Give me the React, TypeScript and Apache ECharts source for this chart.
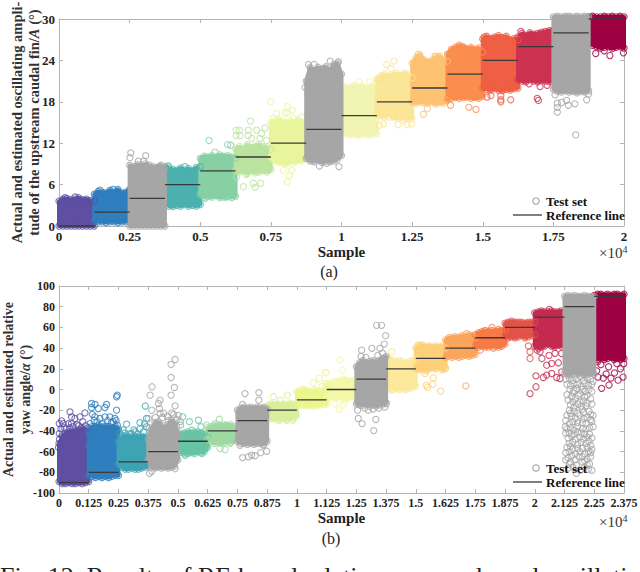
import React, { useEffect, useRef } from "react";
import * as echarts from "echarts";

const SERIF = "'Liberation Serif', 'Times New Roman', serif";
const BLOCK_WIDTH = 0.125;
const GREY = "#a6a6a6";
const LINE = "#3a3a3a";
const AXIS = "#b4b4b4";

const aXTicks = [0, 0.25, 0.5, 0.75, 1, 1.25, 1.5, 1.75, 2];
const bXTicks = [0, 0.125, 0.25, 0.375, 0.5, 0.625, 0.75, 0.875, 1, 1.125, 1.25, 1.375, 1.5, 1.625, 1.75, 1.875, 2, 2.125, 2.25, 2.375];

const aColors = ["#5e4fa2", "#2f7ebd", GREY, "#4bb0ae", "#86d0a4", "#bce4a0", "#e9f59c", GREY, "#f2f4b4", "#fbe596", "#fdc272", "#fb8d4f", "#ee5f44", "#cc3250", GREY, "#9e0142"];
const bColors = ["#5e4fa2", "#2f7ebd", "#3ea3b3", GREY, "#68c4a4", "#9fd9a2", GREY, "#d8ef9b", "#ebf68f", "#f4f8a8", GREY, "#fde99b", "#fdd079", "#fca55d", "#f87a45", "#e25349", "#c42a50", GREY, "#9e0142"];

const aReference = [0, 2, 4, 6, 8, 10, 12, 14, 16, 18, 20, 22, 24, 26, 28, 30];
const bReference = [-90, -80, -70, -60, -50, -40, -30, -20, -10, 0, 10, 20, 30, 40, 50, 60, 70, 80, 90];

const aUpper = [
  [3.6, 3.9, 4.0, 3.8, 3.9, 4.1, 3.8, 3.9, 3.7, 3.6],
  [4.6, 5.0, 4.9, 4.8, 5.2, 4.9, 5.3, 4.8, 4.9, 5.3],
  [8.8, 8.6, 8.9, 8.7, 9.0, 8.8, 8.6, 8.5, 8.8, 8.3],
  [8.6, 8.4, 8.2, 8.1, 8.4, 8.1, 8.3, 8.0, 8.5, 8.6],
  [9.8, 10.1, 10.0, 10.2, 10.0, 10.3, 10.1, 10.2, 10.0, 9.8],
  [11.2, 11.5, 11.2, 11.8, 11.4, 11.6, 11.8, 11.5, 11.3, 11.1],
  [15.0, 15.2, 15.4, 15.2, 15.0, 15.2, 15.0, 15.4, 15.0, 14.5],
  [21.0, 23.0, 22.5, 23.0, 22.8, 23.1, 22.5, 23.4, 23.6, 22.0],
  [19.8, 20.2, 20.0, 20.4, 20.1, 20.3, 20.1, 20.0, 20.4, 19.9],
  [21.3, 21.8, 22.0, 21.7, 21.9, 22.1, 21.8, 22.2, 21.9, 21.5],
  [23.6, 24.4, 24.8, 24.1, 23.8, 24.0, 24.5, 24.6, 24.1, 23.9],
  [24.9, 25.6, 25.9, 26.2, 26.0, 25.7, 25.9, 25.6, 25.8, 25.2],
  [27.1, 27.5, 27.2, 27.4, 27.6, 27.3, 27.5, 27.0, 27.2, 27.0],
  [27.4, 27.9, 27.6, 28.0, 27.8, 27.9, 28.1, 28.2, 28.3, 28.4],
  [30.3, 30.4, 30.3, 30.4, 30.4, 30.3, 30.4, 30.3, 30.4, 30.3],
  [30.3, 30.4, 30.3, 30.3, 30.4, 30.3, 30.4, 30.3, 30.4, 30.3],
];
const aLower = [
  [0.0, 0.0, 0.0, 0.0, 0.0, 0.0, 0.0, 0.0, 0.0, 0.0],
  [0.7, 0.6, 0.6, 0.5, 0.6, 0.6, 0.5, 0.6, 0.6, 0.7],
  [0.0, 0.0, 0.0, 0.0, 0.0, 0.0, 0.0, 0.0, 0.0, 0.0],
  [3.2, 2.9, 2.8, 3.0, 2.9, 3.1, 2.9, 3.0, 2.9, 3.1],
  [4.6, 4.2, 4.3, 4.2, 4.4, 4.1, 4.2, 4.3, 4.1, 4.3],
  [8.0, 7.8, 8.0, 7.6, 8.0, 7.7, 7.8, 8.0, 7.8, 8.2],
  [10.0, 9.4, 9.2, 9.1, 9.0, 9.3, 9.2, 9.6, 9.4, 9.8],
  [9.8, 9.4, 9.3, 9.6, 9.2, 9.4, 9.3, 9.4, 9.7, 10.2],
  [13.6, 13.4, 13.2, 13.3, 13.1, 13.2, 13.4, 13.2, 13.3, 13.4],
  [16.2, 16.0, 15.8, 16.3, 15.8, 15.6, 15.8, 15.6, 15.7, 15.6],
  [18.0, 17.8, 18.0, 17.9, 17.8, 18.0, 17.7, 17.9, 17.8, 18.2],
  [18.4, 18.5, 18.6, 18.5, 18.6, 18.7, 18.5, 18.6, 18.5, 18.8],
  [20.0, 19.8, 19.7, 19.9, 19.7, 19.6, 19.8, 19.7, 19.9, 20.0],
  [21.2, 21.0, 20.9, 21.2, 21.0, 20.9, 21.1, 21.0, 20.9, 21.2],
  [19.8, 19.5, 19.4, 19.6, 19.4, 19.5, 19.3, 19.5, 19.4, 19.6],
  [26.6, 26.2, 26.0, 25.8, 25.9, 26.0, 25.7, 25.9, 26.0, 25.8],
];
const aLoose: number[][][] = [
  [[0.057, 4.2], [0.021, 4.1]],
  [[0.192, 5.3], [0.145, 5.2]],
  [[0.254, 10.6], [0.307, 10.2], [0.251, 9.9], [0.281, 9.4], [0.3, 9.4], [0.355, 8.6], [0.284, 8.6]],
  [[0.387, 8.7], [0.446, 8.6]],
  [[0.531, 12.4], [0.552, 10.7], [0.597, 11.8], [0.608, 11.7], [0.517, 4.0], [0.593, 4.2]],
  [[0.678, 15.2], [0.627, 13.9], [0.638, 13.9], [0.67, 13.9], [0.729, 14.2], [0.7, 13.9], [0.627, 13.1], [0.641, 13.1], [0.67, 13.1], [0.717, 13.4], [0.682, 12.7], [0.711, 12.7], [0.735, 12.4], [0.653, 5.7], [0.694, 5.6], [0.714, 6.2], [0.688, 6.2], [0.662, 7.5], [0.741, 8.1], [0.629, 7.1]],
  [[0.75, 18.0], [0.809, 17.3], [0.825, 16.8], [0.8, 16.4], [0.809, 16.4], [0.77, 16.3], [0.83, 15.6], [0.859, 15.8], [0.759, 15.6], [0.808, 6.4], [0.815, 7.3], [0.824, 8.1], [0.794, 8.1]],
  [[0.922, 8.7], [0.947, 9.1], [0.991, 8.6], [0.883, 23.4], [0.903, 23.4], [0.96, 23.9], [0.989, 23.8], [0.871, 20.1]],
  [[1.063, 20.9], [1.1, 20.9]],
  [[1.16, 23.4], [1.186, 23.9], [1.175, 22.8], [1.148, 14.8], [1.134, 14.6], [1.2, 14.7], [1.233, 14.7], [1.248, 14.8], [1.219, 15.3], [1.166, 15.8]],
  [[1.272, 24.9], [1.331, 24.6], [1.29, 16.2], [1.304, 17.0]],
  [[1.386, 17.5], [1.451, 17.2], [1.476, 16.9], [1.431, 25.8]],
  [[1.529, 18.9], [1.564, 18.9], [1.564, 18.3], [1.564, 18.0], [1.599, 18.3], [1.505, 27.4], [1.567, 27.3], [1.515, 18.7]],
  [[1.693, 18.5], [1.697, 18.2], [1.664, 20.6], [1.703, 20.2], [1.728, 20.4], [1.635, 28.2]],
  [[1.829, 13.2], [1.764, 16.5], [1.764, 17.2], [1.764, 17.8], [1.797, 18.2], [1.826, 17.7], [1.868, 18.3], [1.874, 19.1], [1.803, 17.5], [1.756, 19.0], [1.779, 17.9]],
  [[1.9, 25.0], [1.95, 24.7], [1.998, 25.1], [1.93, 25.4]],
];

const bUpper = [
  [-52, -46, -42, -41, -40, -40, -39, -38, -38, -42],
  [-42, -36, -36, -35, -36, -36, -36, -37, -36, -38],
  [-50, -46, -45, -45, -46, -45, -46, -45, -46, -47],
  [-48, -38, -32, -31, -34, -38, -34, -30, -32, -44],
  [-44, -43, -42, -41, -42, -41, -41, -42, -43, -46],
  [-37, -36, -35, -34, -35, -34, -35, -34, -36, -38],
  [-20, -18, -17, -18, -17, -18, -17, -18, -17, -19],
  [-16, -14, -15, -14, -15, -14, -15, -13, -15, -16],
  [-2, -1, 0, -1, -2, -1, -1, -2, -1, 0],
  [5, 6, 7, 8, 8, 10, 9, 8, 9, 7],
  [22, 26, 28, 26, 27, 28, 26, 28, 30, 32],
  [30, 29, 28, 27, 28, 27, 26, 27, 28, 29],
  [40, 42, 43, 41, 42, 41, 42, 41, 42, 40],
  [48, 50, 50, 51, 50, 52, 51, 53, 52, 50],
  [53, 55, 56, 57, 56, 57, 56, 58, 57, 58],
  [64, 65, 66, 65, 65, 65, 64, 65, 65, 65],
  [74, 75, 76, 75, 75, 76, 75, 75, 76, 75],
  [90, 91, 90, 91, 90, 90, 91, 90, 90, 90],
  [91, 92, 92, 91, 92, 91, 92, 92, 91, 92],
];
const bLower = [
  [-89, -91, -91, -90, -91, -91, -90, -91, -90, -89],
  [-83, -84, -85, -84, -85, -84, -85, -84, -83, -83],
  [-72, -75, -77, -77, -76, -77, -77, -76, -75, -74],
  [-68, -75, -76, -75, -76, -75, -76, -75, -74, -68],
  [-58, -61, -62, -62, -61, -62, -60, -61, -60, -56],
  [-48, -50, -52, -51, -52, -51, -50, -51, -49, -47],
  [-50, -52, -52, -53, -52, -53, -52, -52, -53, -50],
  [-26, -28, -28, -29, -28, -28, -29, -27, -28, -25],
  [-14, -15, -15, -16, -15, -16, -15, -15, -14, -14],
  [-7, -8, -7, -8, -7, -8, -9, -7, -8, -7],
  [-14, -15, -15, -14, -16, -15, -16, -15, -14, -13],
  [2, 1, 0, 1, 0, 1, 0, 1, 2, 3],
  [20, 19, 20, 18, 20, 21, 20, 22, 19, 21],
  [31, 32, 31, 32, 31, 32, 33, 32, 33, 34],
  [42, 41, 42, 41, 41, 42, 42, 41, 42, 44],
  [52, 50, 51, 50, 51, 52, 50, 51, 52, 53],
  [42, 40, 41, 42, 44, 42, 41, 43, 42, 44],
  [16, 14, 15, 17, 15, 16, 14, 15, 16, 15],
  [30, 29, 31, 29, 30, 31, 29, 30, 29, 30],
];
const bLoose: number[][][] = [
  [[0.046, -21.6], [0.011, -30.3], [0.001, -32.9], [0.001, -42.6], [0.039, -33], [0.088, -26.5], [0.109, -22.6], [0.067, -28], [0.053, -26.5], [0.018, -33], [0.03, -38], [0.075, -34], [0.1, -31], [0.06, -36], [0.008, -38], [0.022, -37], [0.045, -37], [0.052, -33], [0.082, -35], [0.092, -37], [0.112, -35], [0.122, -37], [0.002, -48], [0.012, -45], [-0.002, -56]],
  [[0.137, -13.5], [0.151, -14.5], [0.137, -17.4], [0.2, -14.5], [0.193, -17.4], [0.165, -18.4], [0.245, -5.5], [0.242, -7], [0.242, -20], [0.151, -26.5], [0.193, -26.5], [0.235, -28], [0.214, -26.5], [0.172, -28], [0.245, -34.5], [0.13, -33], [0.16, -31], [0.22, -32], [0.14, -24], [0.148, -30], [0.18, -33], [0.205, -30], [0.228, -31], [0.24, -30], [0.128, -40], [0.134, -47], [0.126, -55]],
  [[0.284, -33.5], [0.363, -16], [0.34, -32], [0.277, -42], [0.305, -42.6], [0.34, -38], [0.368, -28], [0.256, -42.6], [0.368, -36], [0.265, -45], [0.295, -43], [0.32, -41], [0.33, -43], [0.355, -41], [0.36, -33], [0.27, -39], [0.315, -39]],
  [[0.391, 2.6], [0.383, -5.5], [0.471, 24.2], [0.488, 29], [0.471, 11.6], [0.485, 1.9], [0.471, -5.5], [0.488, -15.8], [0.425, -10.3], [0.418, -13.5], [0.422, -18.4], [0.39, -20], [0.441, -23], [0.474, -22.6], [0.502, -25], [0.38, -81], [0.39, -79], [0.376, -28], [0.488, -76.5], [0.425, -23], [0.405, -27], [0.435, -27], [0.455, -26], [0.46, -30], [0.495, -29], [0.51, -31], [0.482, -24], [0.38, -37], [0.385, -42], [0.495, -36], [0.5, -42]],
  [[0.52, -26.5], [0.548, -31], [0.586, -29.7], [0.597, -36], [0.511, -34.5], [0.558, -39.4], [0.6, -42.6], [0.53, -63.5], [0.6, -62]],
  [[0.674, -28.7], [0.705, -34.5], [0.656, -33], [0.677, -57], [0.698, -58], [0.719, -52], [0.621, -34.5]],
  [[0.782, -4], [0.84, -3], [0.84, -10.3], [0.772, -14.5], [0.772, -65.8], [0.796, -65], [0.824, -64], [0.848, -61], [0.873, -59.7], [0.81, -63.5], [0.859, -53.9], [0.761, -53.9]],
  [[0.901, -7], [0.96, -5.5], [0.929, -10.3], [0.926, -29.7], [0.957, -29.7], [0.982, -29.7]],
  [[1.121, 16.5], [1.094, 10.6], [1.069, 6.5], [1.121, 5.8], [1.105, 3]],
  [[1.181, 28.4], [1.192, 18.7], [1.122, 16.1], [1.178, -19.4], [1.195, -15], [1.202, -12], [1.16, -14]],
  [[1.335, 62], [1.356, 62], [1.272, 38], [1.315, 39.7], [1.373, 52], [1.367, 43.9], [1.349, 39.7], [1.258, -28], [1.274, -33], [1.332, -29], [1.323, -39.7], [1.3, -20], [1.375, -13.5], [1.36, 35], [1.34, 33], [1.29, 31], [1.27, 32], [1.255, -20], [1.285, -18], [1.32, -19], [1.345, -18], [1.37, -17], [1.365, 30]],
  [[1.398, 36.5], [1.464, 4], [1.426, 2.6], [1.489, 5.8], [1.398, -0.6]],
  [[1.51, 43], [1.543, 4], [1.549, 2], [1.604, -1.6], [1.574, 11.3], [1.571, 5], [1.539, 15.5], [1.623, 20]],
  [[1.71, 3.5], [1.713, 54]],
  [[1.77, 38], [1.826, 40], [1.82, 60]],
  [[1.98, 30], [1.98, 36.5], [1.973, 42]],
  [[1.98, -4], [2.005, 2.6], [2.005, 13.2], [2.036, 11.6], [2.05, 13.9], [2.071, 15.5], [2.092, 11.6], [2.106, 10.6], [2.113, 17], [2.05, 23.5], [2.071, 25.2], [2.099, 25.8], [2.113, 34.8], [2.061, 77.4], [2.022, 36.5], [2.06, 33], [2.085, 35], [2.03, 30], [2.01, 38]],
  [
    [2.135, -5], [2.16, -3], [2.19, -4], [2.22, -6], [2.24, -2], [2.14, -10], [2.17, -9], [2.205, -11], [2.235, -9], [2.15, -15], [2.18, -14], [2.215, -16], [2.24, -14], [2.145, -20], [2.165, -21], [2.2, -19], [2.228, -21], [2.155, -26], [2.19, -25], [2.22, -27], [2.245, -25], [2.13, -30], [2.16, -31], [2.2, -32], [2.24, -31], [2.128, -36], [2.15, -37], [2.18, -36], [2.215, -38], [2.245, -36], [2.13, -42], [2.165, -43], [2.195, -42], [2.23, -43], [2.14, -47], [2.17, -48], [2.205, -48], [2.24, -47], [2.145, -52], [2.18, -53], [2.215, -52], [2.235, -54], [2.135, -56], [2.16, -58], [2.2, -57], [2.24, -58], [2.13, -61], [2.17, -62], [2.21, -62], [2.235, -61], [2.14, -66], [2.185, -65], [2.22, -67], [2.15, -70], [2.2, -70], [2.23, -72], [2.16, -75], [2.19, -78], [2.225, -77], [2.14, -76], [2.24, -78], [2.175, -81], [2.21, -75],
    [2.13, 10], [2.145, 11], [2.16, 9], [2.175, 10], [2.19, 12], [2.205, 9], [2.22, 11], [2.235, 10], [2.245, 8], [2.135, 5], [2.15, 4], [2.165, 6], [2.18, 5], [2.195, 3], [2.21, 6], [2.225, 4], [2.24, 5], [2.148, 0], [2.165, -1], [2.178, 1], [2.2, 0], [2.212, -2], [2.228, 0], [2.155, -7], [2.182, -6], [2.21, -7], [2.16, -12], [2.19, -12], [2.22, -13], [2.165, -17], [2.195, -16], [2.205, -22], [2.18, -23], [2.15, -23], [2.235, -24], [2.135, -25], [2.17, -28], [2.205, -28], [2.235, -29], [2.145, -33], [2.18, -32], [2.215, -33], [2.135, -38], [2.165, -39], [2.2, -38], [2.23, -37], [2.145, -42], [2.18, -41], [2.21, -43], [2.155, -45], [2.19, -46], [2.222, -46], [2.16, -51], [2.195, -51], [2.228, -50], [2.15, -55], [2.18, -57], [2.22, -56], [2.145, -60], [2.19, -60], [2.225, -60], [2.155, -64], [2.2, -65], [2.235, -65], [2.13, -68], [2.17, -68], [2.21, -69], [2.175, -73], [2.22, -73], [2.145, -72],
  ],
  [[2.281, 1.1], [2.312, 4.3], [2.288, 11], [2.32, 11], [2.35, 9], [2.371, 12], [2.266, 12], [2.26, 18], [2.3, 15], [2.335, 16], [2.36, 20], [2.278, 24], [2.31, 22], [2.345, 25], [2.265, 27], [2.374, 25]],
];

function blockSeries(
  colors: string[], upper: number[][], lower: number[][], loose: number[][][], reference: number[],
  xAxisIndex: number, yAxisIndex: number,
) {
  const series: any[] = [];
  colors.forEach((color, block) => {
    const x0 = block * BLOCK_WIDTH;
    const z = color === GREY ? 3 : 2;
    const column = (i: number) => x0 + (i * BLOCK_WIDTH) / (upper[block].length - 1);
    series.push({
      type: "custom", name: color === GREY ? "Test set" : `Block ${block}`, xAxisIndex, yAxisIndex, z,
      silent: true, encode: { x: 0, y: 1 }, data: [[x0, lower[block][0]]],
      renderItem: (_p: any, api: any) => {
        const top = upper[block].map((v, i) => api.coord([column(i), v]));
        const bottom = lower[block].map((v, i) => api.coord([column(i), v])).reverse();
        return {
          type: "polygon", shape: { points: [...top, ...bottom] },
          style: { fill: color, stroke: color, lineWidth: 4, lineJoin: "round" },
        };
      },
    });
    const edge = [
      ...upper[block].map((v, i) => [column(i), v]),
      ...lower[block].map((v, i) => [column(i), v]),
      ...loose[block],
    ];
    series.push({
      type: "scatter", name: color === GREY ? "Test set" : `Block ${block}`, xAxisIndex, yAxisIndex, z, clip: false, silent: true,
      symbol: "circle", symbolSize: 6.2, data: edge,
      itemStyle: { color: "transparent", borderColor: color, borderWidth: 1.1 },
    });
  });
  const lineData: any[] = [];
  reference.forEach((v, block) => {
    lineData.push([block * BLOCK_WIDTH, v], [(block + 1) * BLOCK_WIDTH, v], [(block + 1) * BLOCK_WIDTH, null]);
  });
  series.push({
    type: "line", name: "Reference line", xAxisIndex, yAxisIndex, z: 5, silent: true, clip: false,
    symbol: "none", data: lineData, connectNulls: false,
    lineStyle: { color: LINE, width: 1.3 },
  });
  return series;
}

const labelStyle = { fontFamily: SERIF, fontWeight: "bold", color: "#222" };

function legendGraphics(yText: number, yLine: number) {
  return [
    { type: "circle", shape: { cx: 536, cy: yText, r: 3.2 }, style: { fill: "transparent", stroke: "#a6a6a6", lineWidth: 1.1 }, z: 20 },
    { type: "text", x: 546, y: yText, style: { text: "Test set", fontFamily: SERIF, fontWeight: "bold", fontSize: 13, fill: "#111", verticalAlign: "middle" }, z: 20 },
    { type: "line", shape: { x1: 513, y1: yLine, x2: 542, y2: yLine }, style: { stroke: LINE, lineWidth: 1.3 }, z: 20 },
    { type: "text", x: 546, y: yLine, style: { text: "Reference line", fontFamily: SERIF, fontWeight: "bold", fontSize: 13, fill: "#111", verticalAlign: "middle" }, z: 20 },
  ];
}

function exponent(y: number) {
  return {
    type: "text", x: 599, y,
    style: {
      text: "×10{s|4}", fontFamily: SERIF, fontSize: 15, fill: "#333", verticalAlign: "middle",
      rich: { s: { fontFamily: SERIF, fontSize: 10, fill: "#333", verticalAlign: "top", padding: [0, 0, 8, 0] } },
    },
  };
}

function caption(text: string, x: number, y: number) {
  return { type: "text", x, y, style: { text, fontFamily: SERIF, fontSize: 16, fill: "#222", align: "center", verticalAlign: "middle" } };
}

function xAxisBase(gridIndex: number, max: number, interval: number, fontSize: number) {
  return {
    type: "value", gridIndex, min: 0, max, interval, position: "bottom",
    name: "Sample", nameLocation: "middle", nameGap: gridIndex === 0 ? 18 : 17,
    nameTextStyle: { ...labelStyle, fontSize: 15 },
    axisLine: { show: true, onZero: false, lineStyle: { color: AXIS, width: 1 } },
    axisTick: { show: true, inside: true, length: 4, lineStyle: { color: AXIS } },
    axisLabel: { ...labelStyle, fontSize, margin: 4, showMinLabel: true, showMaxLabel: true, hideOverlap: false },
    splitLine: { show: false },
  };
}

function mirrorX(gridIndex: number, max: number, interval: number) {
  return {
    type: "value", gridIndex, min: 0, max, interval, position: "top",
    axisLine: { show: true, onZero: false, lineStyle: { color: AXIS, width: 1 } },
    axisTick: { show: true, inside: true, length: 4, lineStyle: { color: AXIS } },
    axisLabel: { show: false }, splitLine: { show: false },
  };
}

function mirrorY(gridIndex: number, min: number, max: number, interval: number) {
  return {
    type: "value", gridIndex, min, max, interval, position: "right",
    axisLine: { show: true, onZero: false, lineStyle: { color: AXIS, width: 1 } },
    axisTick: { show: true, inside: true, length: 4, lineStyle: { color: AXIS } },
    axisLabel: { show: false }, splitLine: { show: false },
  };
}

function yAxisBase(gridIndex: number, min: number, max: number, interval: number, name: string, fontSize: number, nameSize: number, nameGap: number) {
  return {
    type: "value", gridIndex, min, max, interval, position: "left",
    name, nameLocation: "middle", nameRotate: 90, nameGap, nameMoveOverlap: false,
    nameTextStyle: {
      ...labelStyle, fontSize: nameSize, lineHeight: nameSize + 3, color: "#333",
      rich: { i: { fontFamily: SERIF, fontWeight: "bold", fontStyle: "italic", fontSize: nameSize, color: "#333" } },
    },
    axisLine: { show: true, onZero: false, lineStyle: { color: AXIS, width: 1 } },
    axisTick: { show: true, inside: true, length: 4, lineStyle: { color: AXIS } },
    axisLabel: { ...labelStyle, fontSize, margin: 4, showMinLabel: true, showMaxLabel: true },
    splitLine: { show: false },
  };
}

export default function App() {
  const ref = useRef<HTMLDivElement>(null);
  useEffect(() => {
    document.body.style.margin = "0";
    const chart = echarts.init(ref.current!, undefined, { renderer: "svg" });
    chart.setOption({
      animation: false,
      backgroundColor: "#fff",
      grid: [
        { left: 59, top: 19, width: 565, height: 207, outerBoundsMode: "none" },
        { left: 59, top: 286, width: 565, height: 207, outerBoundsMode: "none" },
      ],
      xAxis: [
        xAxisBase(0, aXTicks[aXTicks.length - 1], aXTicks[1], 13),
        xAxisBase(1, bXTicks[bXTicks.length - 1], bXTicks[1], 12),
        mirrorX(0, aXTicks[aXTicks.length - 1], aXTicks[1]),
        mirrorX(1, bXTicks[bXTicks.length - 1], bXTicks[1]),
      ],
      yAxis: [
        yAxisBase(0, 0, 30, 6, "Actual and estimated oscillating ampli-\ntude of the upstream caudal fin/{i|A} (°)", 13, 14.5, 16),
        yAxisBase(1, -100, 100, 20, "Actual and estimated relative\nyaw angle/{i|α} (°)", 12, 14, 25),
        mirrorY(0, 0, 30, 6),
        mirrorY(1, -100, 100, 20),
      ],
      series: [
        ...blockSeries(aColors, aUpper, aLower, aLoose, aReference, 0, 0),
        ...blockSeries(bColors, bUpper, bLower, bLoose, bReference, 1, 1),
      ],
      graphic: [
        ...legendGraphics(201, 215),
        ...legendGraphics(468, 482),
        exponent(253),
        exponent(522),
        caption("(a)", 329, 271),
        caption("(b)", 331, 538),
        { type: "text", x: 0, y: 563, style: { text: "Fig. 12. Results of RF-based relative yaw angle and oscillation", fontFamily: SERIF, fontSize: 26, fill: "#222" } },
      ],
    });
    return () => chart.dispose();
  }, []);
  return <div ref={ref} style={{ width: 640, height: 572, overflow: "hidden" }} />;
}
